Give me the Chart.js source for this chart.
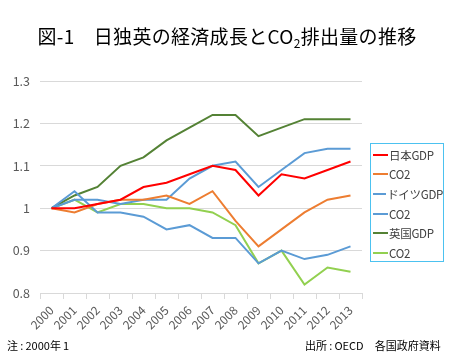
<!DOCTYPE html>
<html>
<head>
<meta charset="utf-8">
<script src="https://cdn.jsdelivr.net/npm/chart.js@4/dist/chart.umd.min.js"></script>
<style>
  body { margin: 0; background: #fff; font-family: "Noto Sans CJK JP", "Noto Sans", sans-serif; }
  #wrap { position: relative; width: 450px; height: 361px; overflow: hidden; }
  #chart { position: absolute; left: 0; top: 0; }
  #title { position: absolute; left: 0; width: 454px; top: 22px; text-align: center; font-size: 19px; color: #000; letter-spacing: 0.3px; }
  #title sub { font-size: 12px; vertical-align: -4px; }
  .note { position: absolute; top: 337px; font-size: 11px; color: #000; }
  #legend { position: absolute; left: 370px; top: 143px; width: 74px; height: 119px; border: 1.5px solid #4cc2f0; box-sizing: border-box; padding-top: 1px; }
  .item { height: 19.6px; display: flex; align-items: center; font-size: 11.5px; letter-spacing: -0.3px; color: #404040; white-space: nowrap; }
  .item span.ln { display: inline-block; width: 15px; height: 2px; margin: 0 1px 0 2px; }
</style>
</head>
<body>
<div id="wrap">
  <canvas id="chart" width="450" height="361"></canvas>
  <div id="title">図-1　日独英の経済成長とCO<sub>2</sub>排出量の推移</div>
  <div id="legend"></div>
  <div class="note" style="left:7px;">注&thinsp;:&thinsp;2000年&thinsp;1</div>
  <div class="note" style="left:305px;">出所&thinsp;:&thinsp;OECD　各国政府資料</div>
</div>
<script>
  // 年
  let years = ['2000', '2001', '2002', '2003', '2004', '2005', '2006', '2007', '2008', '2009', '2010', '2011', '2012', '2013'];

  // 2000年=1 とした指数
  let japanGdp = [1, 1.00, 1.01, 1.02, 1.05, 1.06, 1.08, 1.10, 1.09, 1.03, 1.08, 1.07, 1.09, 1.11];
  let japanCo2 = [1, 0.99, 1.01, 1.02, 1.02, 1.03, 1.01, 1.04, 0.97, 0.91, 0.95, 0.99, 1.02, 1.03];
  let germanyGdp = [1, 1.02, 1.02, 1.01, 1.02, 1.02, 1.07, 1.10, 1.11, 1.05, 1.09, 1.13, 1.14, 1.14];
  let germanyCo2 = [1, 1.04, 0.99, 0.99, 0.98, 0.95, 0.96, 0.93, 0.93, 0.87, 0.90, 0.88, 0.89, 0.91];
  let ukGdp = [1, 1.03, 1.05, 1.10, 1.12, 1.16, 1.19, 1.22, 1.22, 1.17, 1.19, 1.21, 1.21, 1.21];
  let ukCo2 = [1, 1.02, 0.99, 1.01, 1.01, 1.00, 1.00, 0.99, 0.96, 0.87, 0.90, 0.82, 0.86, 0.85];

  let seriesLabels = ['日本GDP', 'CO2', 'ドイツGDP', 'CO2', '英国GDP', 'CO2'];
  let seriesData = [japanGdp, japanCo2, germanyGdp, germanyCo2, ukGdp, ukCo2];
  let seriesColors = ['#ff0000', '#ed7d31', '#5b9bd5', '#5b9bd5', '#548235', '#92d050'];

  let yTicks = [0.8, 0.9, 1.0, 1.1, 1.2, 1.3];

  let datasets = seriesData.map(function(d, i) {
    return {
      label: seriesLabels[i],
      data: d,
      borderColor: seriesColors[i],
      backgroundColor: seriesColors[i],
      borderWidth: 2,
      pointRadius: 0,
      tension: 0,
      fill: false
    };
  });

  let fontFamily = '"Noto Sans CJK JP", "Noto Sans", sans-serif';

  new Chart(document.getElementById('chart').getContext('2d'), {
    type: 'line',
    data: { labels: years, datasets: datasets },
    options: {
      responsive: false,
      animation: false,
      layout: { padding: { top: 81, right: 88, bottom: 18, left: 0 } },
      plugins: { legend: { display: false }, tooltip: { enabled: false } },
      scales: {
        x: {
          offset: true,
          grid: { display: true, offset: true, drawOnChartArea: false, drawTicks: true, tickLength: 6, color: '#d9d9d9' },
          border: { display: true, color: '#d9d9d9' },
          ticks: {
            autoSkip: false, minRotation: 45, maxRotation: 45,
            color: '#595959', font: { family: fontFamily, size: 12 }, padding: 4
          },
          afterFit: function(axis) { axis.height = 50; }
        },
        y: {
          min: yTicks[0],
          max: yTicks[yTicks.length - 1],
          afterBuildTicks: function(axis) { axis.ticks = yTicks.map(function(v) { return { value: v }; }); },
          grid: { color: '#d9d9d9', drawTicks: false, lineWidth: 1 },
          border: { display: false },
          ticks: {
            color: '#595959', font: { family: fontFamily, size: 12.5 }, padding: 10,
            callback: function(v) { return String(+v.toFixed(1)); }
          },
          afterFit: function(axis) { axis.width = 40; }
        }
      }
    }
  });

  // 凡例
  let legend = document.getElementById('legend');
  seriesLabels.forEach(function(label, i) {
    let item = document.createElement('div');
    item.className = 'item';
    item.innerHTML = '<span class="ln" style="background:' + seriesColors[i] + '"></span>' + label;
    legend.appendChild(item);
  });
</script>
</body>
</html>
